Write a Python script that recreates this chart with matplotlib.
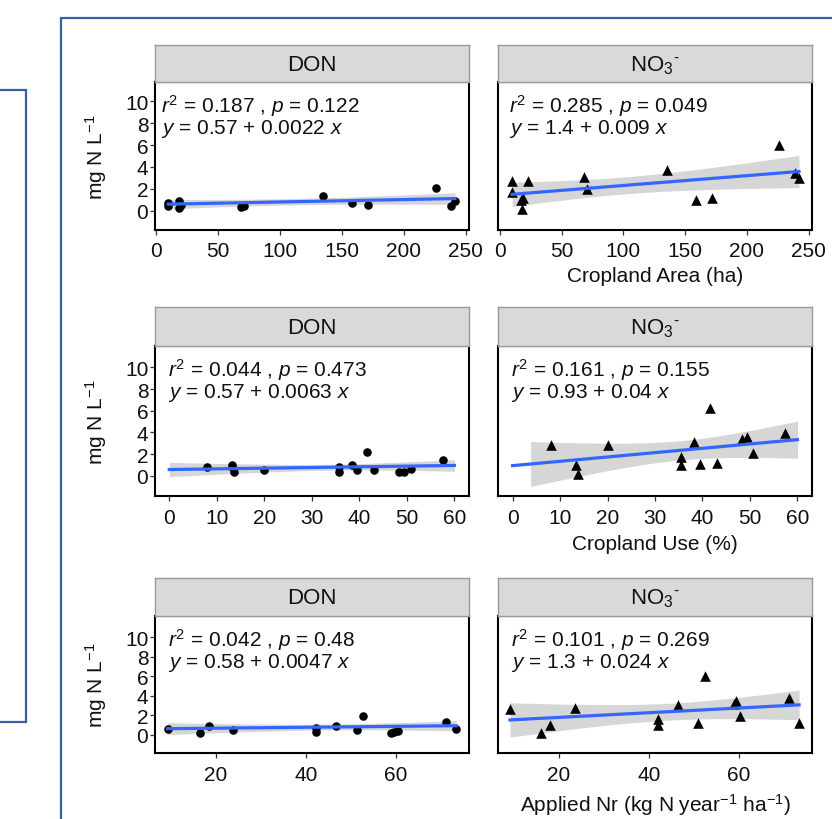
import numpy as np
import matplotlib
matplotlib.use('Agg')
import matplotlib.pyplot as plt
from matplotlib.patches import Rectangle

plt.rcParams['font.family'] = ['Liberation Sans', 'DejaVu Sans']
plt.rcParams['mathtext.fontset'] = 'custom'
plt.rcParams['mathtext.rm'] = 'Liberation Sans'
plt.rcParams['mathtext.it'] = 'Liberation Sans:italic'

# ---- data ----
# row 1: cropland area (ha)
area_don_x = [9.6, 9.6, 18.2, 18.2, 19.8, 68.6, 70.5, 135.0, 158.4, 171.0, 225.9, 237.9, 241.4]
area_don_y = [0.70, 0.40, 0.91, 0.21, 0.52, 0.30, 0.45, 1.37, 0.70, 0.52, 2.07, 0.46, 0.85]
area_no3_x = [10.0, 10.0, 17.5, 18.5, 18.0, 22.9, 68.4, 70.5, 135.6, 158.5, 171.4, 225.8, 238.7, 242.2]
area_no3_y = [2.74, 1.68, 1.00, 1.15, 0.15, 2.74, 3.11, 1.98, 3.75, 0.98, 1.16, 6.04, 3.45, 2.99]

# row 2: cropland use (%)
use_don_x = [7.9, 13.1, 13.3, 13.7, 20.0, 35.7, 35.7, 38.5, 39.6, 41.6, 43.1, 48.4, 49.4, 50.8, 57.6]
use_don_y = [0.79, 1.01, 0.79, 0.32, 0.54, 0.79, 0.38, 0.95, 0.57, 2.15, 0.57, 0.38, 0.38, 0.63, 1.42]
use_no3_x = [8.1, 13.4, 13.7, 20.1, 35.4, 35.4, 38.3, 39.5, 41.6, 43.1, 48.4, 49.4, 50.6, 57.4]
use_no3_y = [2.84, 0.95, 0.16, 2.84, 1.70, 1.01, 3.12, 1.10, 6.25, 1.14, 3.38, 3.56, 2.11, 3.94]

# row 3: applied Nr (kg N / year / ha)
nr_don_x = [9.3, 16.4, 18.5, 23.9, 42.3, 42.3, 46.7, 51.3, 52.7, 58.9, 59.5, 60.6, 71.2, 73.4]
nr_don_y = [0.62, 0.23, 0.89, 0.49, 0.33, 0.69, 0.89, 0.46, 1.97, 0.23, 0.30, 0.43, 1.34, 0.56]
nr_no3_x = [9.1, 15.9, 18.1, 23.5, 42.1, 42.1, 46.4, 50.9, 52.5, 59.0, 59.3, 60.3, 71.1, 73.4]
nr_no3_y = [2.69, 0.13, 0.98, 2.75, 1.64, 0.98, 3.02, 1.21, 5.97, 3.18, 3.41, 1.97, 3.77, 1.21]

# fit statistics printed in the panels (row-major: DON, NO3)
r2_vals = [0.187, 0.285, 0.044, 0.161, 0.042, 0.101]
p_vals = ['0.122', '0.049', '0.473', '0.155', '0.48', '0.269']
intercepts = ['0.57', '1.4', '0.57', '0.93', '0.58', '1.3']
slopes = ['0.0022', '0.009', '0.0063', '0.04', '0.0047', '0.024']

species = ['DON', 'NO$_3$$^{\u2010}$']
x_labels = ['Cropland Area (ha)', 'Cropland Use (%)', r'Applied Nr (kg N year$^{-1}$ ha$^{-1}$)']
x_ticks = [[0, 50, 100, 150, 200, 250], [0, 10, 20, 30, 40, 50, 60], [20, 40, 60]]
y_ticks = [0, 2, 4, 6, 8, 10]

panels = [[(area_don_x, area_don_y), (area_no3_x, area_no3_y)],
          [(use_don_x, use_don_y), (use_no3_x, use_no3_y)],
          [(nr_don_x, nr_don_y), (nr_no3_x, nr_no3_y)]]

# ---- layout (pixels) ----
W, H = 832, 820
col_px = [(155.0, 468.7), (498.3, 811.7)]
strip_px = [(46, 83.3), (308.3, 346.7), (578.5, 616.7)]
panel_px = [(83.3, 230.7), (346.7, 497.3), (616.7, 754.3)]
xlims = [(-1.2, 252.5), (-3, 63), (6.5, 76.2)]
ylims = [(-1.75, 11.75), (-1.9, 12.0), (-1.9, 12.2)]
fit_span = [None, (0, 60), None]
text_inset = [[6, 11], [13, 13], [13, 13]]
xlabel_y = [277, 545, 805]
t_crit = {11: 2.201, 12: 2.179, 13: 2.160, 14: 2.145}
PT = 72 / 100
TXT = '#111111'


def fig_rect(x0, x1, y0, y1):
    return [x0 / W, 1 - y1 / H, (x1 - x0) / W, (y1 - y0) / H]


fig = plt.figure(figsize=(W / 100, H / 100), dpi=100)

# blue frames from the slide
fig.add_artist(Rectangle((-20 / W, 1 - 723.3 / H), 45.7 / W, (723.3 - 90.7) / H,
                         transform=fig.transFigure, fill=False, ec='#3360a9', lw=1.6))
fig.add_artist(Rectangle((60.5 / W, 1 - 900 / H), 900 / W, (900 - 19) / H,
                         transform=fig.transFigure, fill=False, ec='#3360a9', lw=1.6))

k = 0
for r in range(3):
    for c in range(2):
        x = np.array(panels[r][c][0])
        y = np.array(panels[r][c][1])
        x0, x1 = col_px[c]
        ax = fig.add_axes(fig_rect(x0, x1, *panel_px[r]))
        sax = fig.add_axes(fig_rect(x0, x1, *strip_px[r]))
        sax.set_facecolor('#d9d9d9')
        sax.set_xticks([])
        sax.set_yticks([])
        for s in sax.spines.values():
            s.set_color('#9a9a9a')
            s.set_linewidth(1.0)
        sax.text(0.5, 0.47, species[c], ha='center', va='center', fontsize=16, color=TXT)

        a = float(intercepts[k])
        b = float(slopes[k])
        if fit_span[r] is None:
            xs = np.linspace(x.min(), x.max(), 80)
        else:
            xs = np.linspace(fit_span[r][0], fit_span[r][1], 80)
        n = len(x)
        res = y - (a + b * x)
        s_res = np.sqrt(np.sum(res ** 2) / (n - 2))
        sxx = np.sum((x - x.mean()) ** 2)
        se = s_res * np.sqrt(1 / n + (xs - x.mean()) ** 2 / sxx)
        fit = a + b * xs
        lo = fit - t_crit[n - 2] * se
        hi = fit + t_crit[n - 2] * se
        keep = lo >= -1
        ax.fill_between(xs[keep], lo[keep], hi[keep], color='#999999', alpha=0.4, lw=0, zorder=1)
        ax.plot(xs, fit, color='#3366FF', lw=2.3, zorder=3)

        if c == 0:
            ax.scatter(x, y, s=38, marker='o', color='black', lw=0, zorder=2)
        else:
            ax.scatter(x, y, s=58, marker='^', color='black', lw=0, zorder=2)

        ax.set_xlim(*xlims[r])
        ax.set_ylim(*ylims[r])
        ax.set_xticks(x_ticks[r])
        ax.set_yticks(y_ticks if c == 0 else [])
        ax.tick_params(axis='x', length=3.6, width=0.9, color='#333333', labelsize=15,
                       labelcolor=TXT, pad=4.5)
        ax.tick_params(axis='y', length=3.6, width=0.9, color='#333333', labelsize=15,
                       labelcolor=TXT, pad=1.2)
        for s in ax.spines.values():
            s.set_linewidth(1.5)
            s.set_color('black')

        inset = text_inset[r][c] * PT
        ax.annotate(r'$\it{r}^2$ = %s , $\it{p}$ = %s' % (r2_vals[k], p_vals[k]),
                    xy=(0, 1), xycoords='axes fraction', xytext=(inset, -23 * PT),
                    textcoords='offset points', ha='left', va='center', fontsize=15,
                    color=TXT)
        ax.annotate(r'$\it{y}$ = %s + %s $\it{x}$' % (intercepts[k], slopes[k]),
                    xy=(0, 1), xycoords='axes fraction', xytext=(inset, -46 * PT),
                    textcoords='offset points', ha='left', va='center', fontsize=15,
                    color=TXT)
        k += 1

    ymid = (panel_px[r][0] + panel_px[r][1]) / 2
    fig.text(96 / W, 1 - ymid / H, r'mg N L$^{-1}$', rotation=90, ha='center', va='center',
             fontsize=15, color=TXT)
    fig.text(655 / W, 1 - xlabel_y[r] / H, x_labels[r], ha='center', va='center',
             fontsize=15, color=TXT)

fig.savefig('out.png', dpi=100)
